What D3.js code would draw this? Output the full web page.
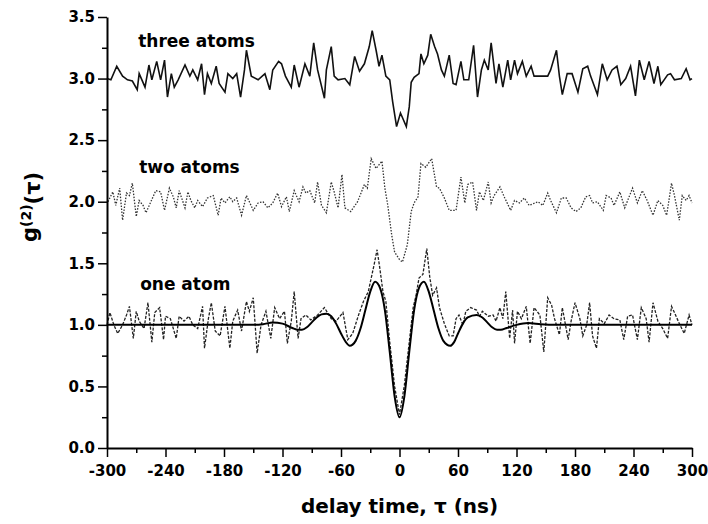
<!DOCTYPE html>
<html>
  <head>
    <meta charset="utf-8">
    <style>
      body {
        margin: 0;
        background: #fff;
        font-family: "DejaVu Sans", sans-serif;
        font-weight: bold;
      }
      .axis path, .axis line {
        stroke: #000;
      }
      .axis path {
        stroke-width: 2px;
      }
      .axis line {
        stroke-width: 1.5px;
      }
      .axis text {
        font-family: "DejaVu Sans", sans-serif;
        font-weight: bold;
        font-size: 15px;
        fill: #000;
      }
      .three-line {
        fill: none;
        stroke: #111;
        stroke-width: 1.6px;
      }
      .two-line {
        fill: none;
        stroke: #333;
        stroke-width: 1.3px;
        stroke-dasharray: 1.5, 1.5;
      }
      .one-line {
        fill: none;
        stroke: #222;
        stroke-width: 1.3px;
        stroke-dasharray: 3, 1.5;
      }
      .fit-line {
        fill: none;
        stroke: #000;
        stroke-width: 2px;
      }
      .label {
        font-size: 17px;
      }
    </style>
  </head>
  <body>
    <script src="https://d3js.org/d3.v7.min.js"></script>
    <script>
      // tick values
      var xTicks = [-300, -240, -180, -120, -60, 0, 60, 120, 180, 240, 300];
      var yTicks = [0, 0.5, 1.0, 1.5, 2.0, 2.5, 3.0, 3.5];
      var traceNames = ["three atoms", "two atoms", "one atom"];

      // [delay (ns), g2]
      var threeAtoms = [[-300,3.00],[-296,2.99],[-290,3.10],[-284,3.02],[-279,2.99],[-274,2.98],[-269,2.91],[-267,3.04],
        [-261,2.93],[-257,3.11],[-254,2.99],[-249,3.14],[-245,2.99],[-241,3.15],[-238,2.85],[-234,3.04],[-231,2.93],
        [-227,2.99],[-220,3.11],[-215,3.02],[-212,3.07],[-207,2.99],[-203,3.12],[-200,2.87],[-197,3.04],[-193,2.96],
        [-188,3.10],[-185,2.96],[-179,2.89],[-176,3.04],[-171,3.00],[-167,3.04],[-163,2.85],[-159,3.07],[-157,3.23],
        [-152,3.02],[-145,2.99],[-138,3.04],[-133,2.91],[-130,3.07],[-124,3.14],[-121,3.12],[-117,3.02],[-111,2.93],
        [-108,3.11],[-103,2.93],[-97,3.12],[-92,3.02],[-88,3.29],[-84,3.07],[-77,2.84],[-75,3.07],[-70,3.26],[-67,3.02],
        [-63,2.99],[-56,3.00],[-51,2.95],[-46,3.18],[-41,3.06],[-36,3.12],[-31,3.26],[-28,3.39],[-24,3.23],[-21,3.10],
        [-18,3.19],[-14,3.02],[-10,2.99],[-7,2.81],[-3,2.61],[1,2.72],[7,2.61],[10,2.77],[12,2.97],[15,3.01],[20,3.04],
        [22,3.20],[25,3.12],[29,3.19],[32,3.36],[36,3.26],[39,3.20],[43,3.07],[46,3.02],[51,3.19],[55,2.96],[58,2.95],
        [63,3.14],[66,2.99],[71,2.99],[76,3.27],[80,2.85],[84,3.07],[87,3.15],[91,3.07],[94,3.29],[99,2.96],[102,3.12],
        [106,2.93],[111,3.15],[114,2.99],[118,3.15],[121,3.04],[126,3.14],[130,3.02],[135,3.10],[138,3.02],[145,3.02],
        [152,3.02],[155,3.07],[161,3.23],[164,3.02],[167,2.87],[172,3.04],[177,3.04],[183,2.89],[188,3.08],[193,3.10],
        [196,3.02],[203,2.87],[208,3.12],[213,2.99],[218,3.07],[223,3.10],[227,2.95],[232,3.00],[237,3.10],[242,2.86],
        [246,3.15],[251,2.99],[256,3.14],[261,2.96],[265,3.10],[268,2.95],[275,3.03],[278,3.04],[282,2.99],[289,3.00],
        [294,3.08],[298,2.99],[300,3.00]];

      var twoAtoms = [[-299,2.00],[-294,2.08],[-291,1.97],[-287,2.11],[-284,1.85],[-280,2.07],[-277,2.05],[-274,2.15],
        [-270,1.88],[-267,2.01],[-263,1.97],[-260,1.91],[-255,2.00],[-250,2.09],[-245,2.08],[-241,1.93],[-236,2.11],
        [-232,2.04],[-229,1.95],[-226,2.09],[-220,1.95],[-217,2.08],[-214,2.01],[-210,1.95],[-207,2.01],[-202,1.96],
        [-197,2.03],[-191,2.05],[-186,1.89],[-183,2.03],[-179,1.99],[-174,2.04],[-171,2.00],[-167,2.03],[-162,1.89],
        [-157,2.05],[-154,2.00],[-150,1.93],[-145,1.99],[-140,2.00],[-135,1.95],[-130,1.99],[-125,2.07],[-121,1.96],
        [-116,2.04],[-113,1.92],[-108,2.09],[-103,2.00],[-99,2.12],[-96,2.07],[-92,2.09],[-87,1.99],[-84,2.16],[-80,1.97],
        [-75,1.91],[-70,2.16],[-67,2.08],[-63,1.95],[-59,2.22],[-56,1.95],[-50,1.92],[-43,2.00],[-36,2.14],[-33,2.11],
        [-29,2.35],[-24,2.27],[-18,2.33],[-15,2.11],[-12,1.97],[-8,1.73],[-5,1.59],[0,1.53],[3,1.51],[8,1.65],[12,1.92],
        [15,1.99],[19,2.04],[22,2.31],[27,2.28],[33,2.35],[38,2.12],[41,2.11],[46,2.03],[51,1.93],[58,1.93],[63,2.20],
        [67,1.99],[70,2.14],[75,2.16],[79,1.93],[82,2.08],[86,2.01],[91,2.16],[94,1.99],[97,2.05],[103,2.12],[108,2.03],
        [114,1.93],[118,2.01],[123,1.99],[128,2.03],[133,1.97],[142,2.00],[147,1.97],[152,2.07],[155,2.01],[161,1.91],
        [166,2.03],[171,2.03],[176,1.95],[181,1.92],[186,1.95],[191,2.04],[195,2.05],[198,1.99],[203,2.00],[209,1.93],
        [212,2.05],[217,2.03],[220,1.97],[226,2.08],[231,1.95],[234,2.01],[239,2.11],[244,1.99],[249,2.09],[254,2.01],
        [260,1.89],[265,2.01],[270,1.97],[274,1.89],[279,2.15],[282,2.05],[287,1.85],[290,2.05],[294,2.01],[297,2.05],
        [300,1.99]];

      var oneAtom = [[-300,1.00],[-297,1.10],[-293,1.00],[-289,0.93],[-284,1.00],[-280,1.08],[-277,1.15],[-273,0.89],
        [-270,1.11],[-267,1.03],[-262,0.97],[-258,1.18],[-254,0.86],[-251,1.10],[-246,1.14],[-242,0.88],[-240,1.07],
        [-235,1.05],[-229,0.89],[-226,1.07],[-221,1.03],[-216,1.07],[-212,1.00],[-207,0.97],[-202,1.15],[-200,0.81],
        [-196,1.05],[-193,1.18],[-189,0.95],[-184,0.91],[-179,1.15],[-174,0.81],[-171,1.03],[-166,1.12],[-162,0.95],
        [-157,1.19],[-154,1.11],[-150,1.22],[-146,0.77],[-142,1.00],[-137,1.11],[-132,0.89],[-128,1.14],[-123,1.05],
        [-118,1.11],[-115,0.85],[-111,1.03],[-108,1.27],[-104,0.89],[-101,1.05],[-96,1.08],[-91,1.04],[-84,1.08],
        [-77,1.14],[-70,1.05],[-65,1.03],[-58,1.10],[-53,0.88],[-48,0.93],[-42,1.08],[-37,1.19],[-32,1.27],[-29,1.38],
        [-26,1.49],[-23,1.61],[-20,1.45],[-17,1.27],[-14,1.19],[-10,0.86],[-5,0.50],[0,0.27],[5,0.51],[10,0.86],
        [14,1.14],[17,1.24],[20,1.38],[24,1.41],[28,1.62],[31,1.39],[34,1.24],[38,1.30],[41,1.14],[46,1.01],[51,0.91],
        [55,0.91],[58,1.05],[61,1.08],[65,1.00],[68,1.11],[73,1.14],[79,1.12],[82,1.07],[85,1.11],[91,1.07],[96,1.08],
        [99,1.03],[103,1.14],[106,1.05],[109,1.27],[113,0.89],[116,1.12],[118,0.85],[121,1.11],[125,1.05],[130,1.15],
        [134,0.85],[138,1.14],[144,1.08],[148,0.78],[152,1.22],[156,1.16],[159,1.05],[164,0.92],[167,1.14],[173,0.88],
        [176,1.03],[180,1.18],[185,1.05],[188,0.91],[192,1.00],[195,1.18],[198,0.91],[202,0.81],[205,1.05],[210,1.01],
        [215,1.08],[220,1.05],[226,1.04],[230,0.88],[234,1.07],[239,1.08],[244,0.88],[248,1.14],[253,1.05],[256,0.86],
        [260,1.18],[265,1.03],[270,0.97],[275,0.89],[279,1.15],[282,1.10],[287,1.01],[292,0.93],[297,1.08],[300,1.00]];

      var oneAtomFit = [[-300,1.0],[-150,1.0],[-140,1.005],[-130,1.02],[-120,1.01],[-110,0.975],[-104,0.96],[-100,0.96],
        [-95,0.98],[-90,1.02],[-85,1.06],[-80,1.085],[-75,1.09],[-70,1.07],[-65,1.01],[-60,0.93],[-55,0.86],[-51,0.83],
        [-45,0.87],[-40,0.97],[-35,1.12],[-30,1.27],[-25,1.35],[-20,1.30],[-15,1.12],[-10,0.78],[-5,0.42],[0,0.25],
        [5,0.42],[10,0.78],[15,1.12],[20,1.30],[25,1.35],[30,1.27],[35,1.12],[40,0.97],[45,0.87],[52,0.83],[56,0.86],
        [60,0.93],[65,1.01],[70,1.06],[79,1.08],[85,1.06],[90,1.02],[95,0.98],[100,0.96],[104,0.96],[110,0.975],
        [120,1.0],[132,1.015],[145,1.005],[160,1.0],[300,1.0]];

      var margin = {top: 17, right: 16, bottom: 76, left: 107},
        width = 708 - margin.left - margin.right,
        height = 524 - margin.top - margin.bottom;

      var svg = d3.select("body").append("svg")
        .attr("width", 708)
        .attr("height", 524)
        .append("g")
        .attr("transform", "translate(" + margin.left + "," + margin.top + ")");

      var xScale = d3.scaleLinear().domain([-300, 300]).range([0, width]);
      var yScale = d3.scaleLinear().domain([0, 3.5]).range([height, 0]);

      var line = d3.line()
        .x(d => xScale(d[0]))
        .y(d => yScale(d[1]));

      var smooth = d3.line()
        .x(d => xScale(d[0]))
        .y(d => yScale(d[1]))
        .curve(d3.curveMonotoneX);

      svg.append("path").attr("class", "two-line").datum(twoAtoms).attr("d", line);
      svg.append("path").attr("class", "one-line").datum(oneAtom).attr("d", line);
      svg.append("path").attr("class", "fit-line").datum(oneAtomFit).attr("d", smooth);
      svg.append("path").attr("class", "three-line").datum(threeAtoms).attr("d", line);

      // minor ticks
      svg.append("g").attr("class", "axis")
        .call(d3.axisLeft(yScale).tickValues(d3.range(0.25, 3.5, 0.5)).tickSize(5).tickFormat(""))
        .select(".domain").remove();
      svg.append("g").attr("class", "axis")
        .attr("transform", "translate(0," + height + ")")
        .call(d3.axisBottom(xScale).tickValues(d3.range(-270, 300, 60)).tickSize(5).tickFormat(""))
        .select(".domain").remove();

      // major axes (plain hyphen for negatives, as in the original)
      svg.append("g").attr("class", "axis")
        .call(d3.axisLeft(yScale).tickValues(yTicks).tickSize(9).tickSizeOuter(0).tickPadding(3)
          .tickFormat(d3.format(".1f")));
      svg.append("g").attr("class", "axis")
        .attr("transform", "translate(0," + height + ")")
        .call(d3.axisBottom(xScale).tickValues(xTicks).tickSize(9).tickSizeOuter(0).tickPadding(8)
          .tickFormat(d => String(d)));

      // trace labels
      var labelPos = [[-268, 3.26], [-267, 2.23], [-266, 1.28]];
      svg.selectAll(".label")
        .data(traceNames)
        .enter().append("text")
          .attr("class", "label")
          .attr("x", (d, i) => xScale(labelPos[i][0]))
          .attr("y", (d, i) => yScale(labelPos[i][1]))
          .text(d => d);

      // axis titles
      svg.append("text")
        .attr("x", width / 2)
        .attr("y", height + 65)
        .attr("text-anchor", "middle")
        .style("font-size", "20px")
        .text("delay time, \u03c4 (ns)");

      var yTitle = svg.append("text")
        .attr("transform", "translate(-70,225) rotate(-90)")
        .attr("text-anchor", "start")
        .style("font-size", "21px");
      yTitle.append("tspan").text("g");
      yTitle.append("tspan").attr("dy", "-0.45em").style("font-size", "14px").text("(2)");
      yTitle.append("tspan").attr("dy", "0.45em").text("(\u03c4)");
    </script>
  </body>
</html>
